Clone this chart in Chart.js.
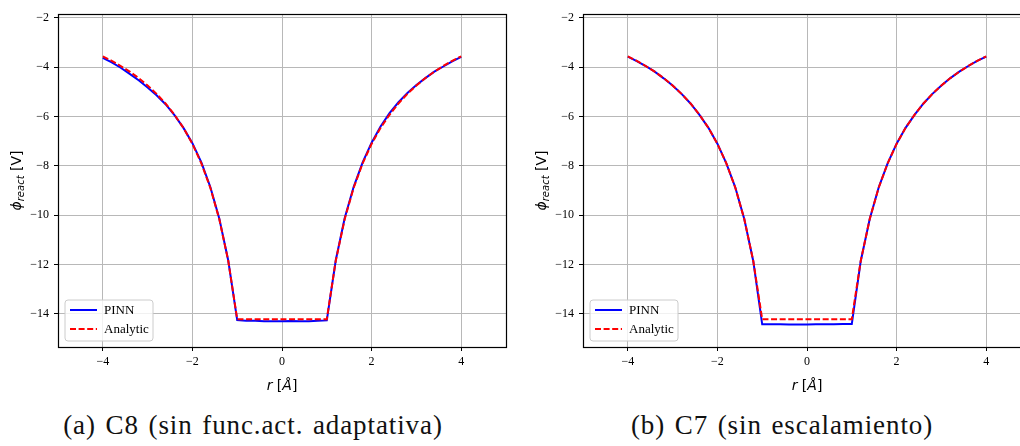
<!DOCTYPE html>
<html>
<head>
<meta charset="utf-8">
<script src="https://cdn.jsdelivr.net/npm/chart.js@4.4.1/dist/chart.umd.min.js"></script>
<style>
  html, body { margin:0; padding:0; background:#fff; width:1020px; height:446px; overflow:hidden; }
  .panel { position:absolute; top:0; width:520px; height:400px; }
  .cap { position:absolute; top:410px; font-family:"Liberation Serif", "DejaVu Serif", serif; font-size:27px; letter-spacing:0.9px; word-spacing:2px; color:#111; white-space:nowrap; transform:translateX(-50%); }
</style>
</head>
<body>
<div class="panel" style="left:0px"><canvas id="c1" width="520" height="400"></canvas></div>
<div class="panel" style="left:525px"><canvas id="c2" width="520" height="400"></canvas></div>
<div class="cap" style="left:253px">(a) C8 (sin func.act. adaptativa)</div>
<div class="cap" style="left:782px">(b) C7 (sin escalamiento)</div>
<script>
// ---- data ----
const rValues = [-4.0,-3.8,-3.6,-3.4,-3.2,-3.0,-2.8,-2.6,-2.4,-2.2,-2.0,-1.8,-1.6,-1.4,-1.2,-1.0,
  -0.8,-0.6,-0.4,-0.2,0.0,0.2,0.4,0.6,0.8,
  1.0,1.2,1.4,1.6,1.8,2.0,2.2,2.4,2.6,2.8,3.0,3.2,3.4,3.6,3.8,4.0];

const analytic = [-3.56,-3.74,-3.95,-4.18,-4.44,-4.74,-5.08,-5.47,-5.93,-6.46,-7.11,-7.90,-8.89,-10.16,-11.85,-14.22,
  -14.22,-14.22,-14.22,-14.22,-14.22,-14.22,-14.22,-14.22,-14.22,
  -14.22,-11.85,-10.16,-8.89,-7.90,-7.11,-6.46,-5.93,-5.47,-5.08,-4.74,-4.44,-4.18,-3.95,-3.74,-3.56];

const pinnC8 = [-3.62,-3.80,-4.02,-4.27,-4.53,-4.82,-5.14,-5.50,-5.94,-6.46,-7.08,-7.86,-8.86,-10.14,-11.84,-14.26,
  -14.28,-14.29,-14.31,-14.31,-14.31,-14.30,-14.31,-14.31,-14.29,
  -14.27,-11.83,-10.12,-8.85,-7.86,-7.06,-6.40,-5.86,-5.42,-5.04,-4.72,-4.44,-4.18,-3.97,-3.76,-3.58];

const pinnC7 = [-3.57,-3.75,-3.95,-4.18,-4.45,-4.74,-5.08,-5.47,-5.93,-6.46,-7.10,-7.90,-8.88,-10.16,-11.86,-14.43,
  -14.43,-14.43,-14.44,-14.44,-14.44,-14.43,-14.43,-14.43,-14.42,
  -14.42,-11.86,-10.16,-8.88,-7.90,-7.10,-6.46,-5.93,-5.47,-5.08,-4.74,-4.44,-4.18,-3.95,-3.74,-3.57];

const xTicks = [-4,-2,0,2,4];
const yTicks = [-14,-12,-10,-8,-6,-4,-2];
const xLimits = [-5, 5];
const yLimits = [-15.35, -1.84];
const seriesLabels = ['PINN', 'Analytic'];

// ---- helpers ----
const pts = (ys) => rValues.map((r,i)=>({x:r, y:ys[i]}));
const fmt = v => (v < 0 ? '\u2212' : '') + Math.abs(v);

const decor = {
  id: 'decor',
  afterDatasetsDraw(chart) {
    const ctx = chart.ctx, a = chart.chartArea;
    ctx.save();
    // frame
    ctx.strokeStyle = '#000';
    ctx.lineWidth = 1.2;
    ctx.strokeRect(Math.round(a.left)+0.5, Math.round(a.top)+0.5, Math.round(a.right-a.left), Math.round(a.bottom-a.top));
    // legend
    const lx = a.left + 7, ly = a.bottom - 47, lw = 88, lh = 41, rr = 3;
    ctx.beginPath();
    ctx.moveTo(lx+rr, ly); ctx.lineTo(lx+lw-rr, ly); ctx.quadraticCurveTo(lx+lw, ly, lx+lw, ly+rr);
    ctx.lineTo(lx+lw, ly+lh-rr); ctx.quadraticCurveTo(lx+lw, ly+lh, lx+lw-rr, ly+lh);
    ctx.lineTo(lx+rr, ly+lh); ctx.quadraticCurveTo(lx, ly+lh, lx, ly+lh-rr);
    ctx.lineTo(lx, ly+rr); ctx.quadraticCurveTo(lx, ly, lx+rr, ly);
    ctx.closePath();
    ctx.fillStyle = 'rgba(255,255,255,0.8)';
    ctx.fill();
    ctx.strokeStyle = '#cccccc';
    ctx.lineWidth = 1;
    ctx.stroke();
    const ds = chart.data.datasets;
    const rows = [ly + 10, ly + 29];
    ds.forEach((d, i) => {
      ctx.beginPath();
      ctx.strokeStyle = d.borderColor;
      ctx.lineWidth = 2;
      ctx.setLineDash(d.borderDash || []);
      ctx.moveTo(lx + 5, rows[i]); ctx.lineTo(lx + 32, rows[i]);
      ctx.stroke();
      ctx.setLineDash([]);
      ctx.fillStyle = '#000';
      ctx.font = '13px "Liberation Serif", serif';
      ctx.textBaseline = 'middle';
      ctx.textAlign = 'left';
      ctx.fillText(d.label, lx + 39, rows[i] + 0.5);
    });
    // x label: r [Å]
    const cx = (a.left + a.right) / 2, by = a.bottom + 43;
    const parts = [['r', 'italic '], [' [', ''], ['\u00C5', 'italic '], [']', '']];
    ctx.textBaseline = 'alphabetic';
    let tw = 0;
    parts.forEach(p => { ctx.font = p[1] + '14px "DejaVu Sans"'; tw += ctx.measureText(p[0]).width; });
    let x = cx - tw / 2;
    parts.forEach(p => { ctx.font = p[1] + '14px "DejaVu Sans"'; ctx.fillText(p[0], x, by); x += ctx.measureText(p[0]).width; });
    // y label: φ_react [V]
    ctx.translate(21, (a.top + a.bottom) / 2);
    ctx.rotate(-Math.PI / 2);
    const yparts = [['\u03D5', 'italic ', 14, 0], ['react', 'italic ', 10, 3], [' [V]', '', 14, 0]];
    tw = 0;
    yparts.forEach(p => { ctx.font = p[1] + p[2] + 'px "DejaVu Sans"'; tw += ctx.measureText(p[0]).width; });
    x = -tw / 2;
    yparts.forEach(p => { ctx.font = p[1] + p[2] + 'px "DejaVu Sans"'; ctx.fillText(p[0], x, p[3]); x += ctx.measureText(p[0]).width; });
    ctx.restore();
  }
};

function makeChart(id, pinn) {
  return new Chart(document.getElementById(id), {
    type: 'line',
    data: {
      datasets: [
        { label: seriesLabels[0], data: pts(pinn), borderColor: '#0000ff', borderWidth: 2, pointRadius: 0, tension: 0, fill: false, order: 2 },
        { label: seriesLabels[1], data: pts(analytic), borderColor: '#ff0000', borderWidth: 2, borderDash: [6, 2.6], pointRadius: 0, tension: 0, fill: false, order: 1 }
      ]
    },
    options: {
      responsive: false, animation: false, devicePixelRatio: 1,
      layout: { padding: { left: 10, right: 14, top: 14, bottom: 0 } },
      plugins: { legend: { display: false }, tooltip: { enabled: false } },
      scales: {
        x: {
          type: 'linear', min: xLimits[0], max: xLimits[1],
          afterBuildTicks: s => { s.ticks = xTicks.map(v => ({ value: v })); },
          afterFit: s => { s.height = 53; },
          border: { display: false },
          grid: { color: '#b8b8b8', lineWidth: 1, tickLength: 4, tickColor: '#000' },
          ticks: { callback: fmt, color: '#000', padding: 4, maxRotation: 0, autoSkip: false, font: { family: '"Liberation Serif", serif', size: 12 } }
        },
        y: {
          type: 'linear', min: yLimits[0], max: yLimits[1],
          afterBuildTicks: s => { s.ticks = yTicks.map(v => ({ value: v })); },
          afterFit: s => { s.width = 48; },
          border: { display: false },
          grid: { color: '#b8b8b8', lineWidth: 1, tickLength: 4, tickColor: '#000' },
          ticks: { callback: fmt, color: '#000', padding: 5, autoSkip: false, font: { family: '"Liberation Serif", serif', size: 12 } }
        }
      }
    },
    plugins: [decor]
  });
}
makeChart('c1', pinnC8);
makeChart('c2', pinnC7);
</script>
</body>
</html>
